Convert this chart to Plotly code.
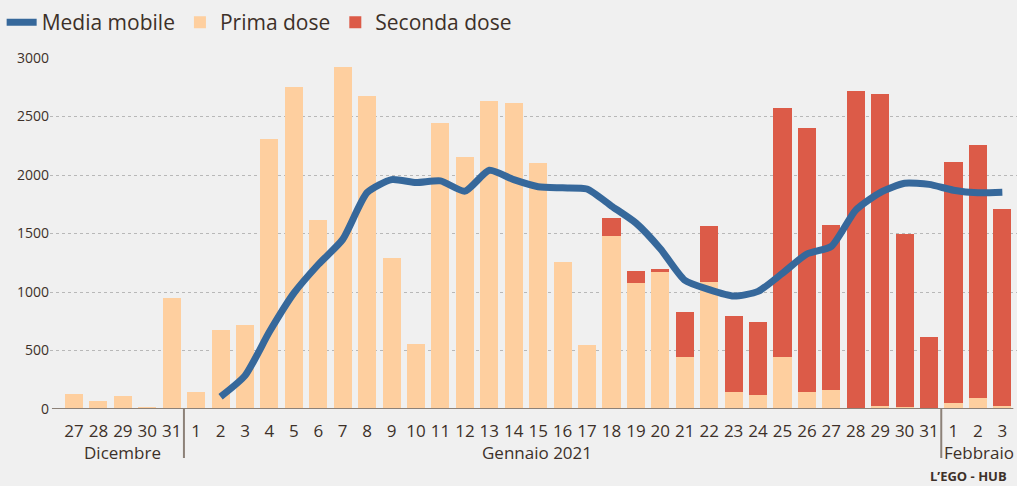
import plotly.graph_objects as go

day_labels = ["27", "28", "29", "30", "31"] + [str(d) for d in range(1, 32)] + ["1", "2", "3"]

prima_dose = [130, 70, 115, 15, 950,
              145, 675, 718, 2308, 2752, 1615, 2923, 2675, 1290, 556,
              2444, 2154, 2632, 2615, 2103, 1256, 547, 1480, 1078, 1172,
              447, 1088, 148, 122, 447, 148, 165, 0, 28, 20, 0,
              54, 97, 28]

seconda_dose = [0, 0, 0, 0, 0,
                0, 0, 0, 0, 0, 0, 0, 0, 0, 0,
                0, 0, 0, 0, 0, 0, 0, 155, 104, 27,
                385, 479, 649, 624, 2128, 2252, 1410, 2720, 2667, 1478, 618,
                2059, 2162, 1683]

media_mobile = [None, None, None, None, None,
                None, 105, 285, 660, 990, 1235, 1450, 1850, 1960, 1935,
                1950, 1862, 2040, 1960, 1900, 1890, 1880, 1735, 1590, 1370,
                1100, 1020, 965, 1005, 1160, 1325, 1390, 1700, 1850, 1930, 1920,
                1870, 1848, 1852]

month_labels = ["Dicembre", "Gennaio 2021", "Febbraio"]

x = list(range(len(day_labels)))

TXT = "#3d3029"
FONT = "Open Sans"

fig = go.Figure()
fig.add_trace(go.Bar(x=x, y=prima_dose, name="Prima dose", marker_color="#fecf9f",
                     marker_line_width=0, legendrank=2))
fig.add_trace(go.Bar(x=x, y=seconda_dose, name="Seconda dose", marker_color="#dc5b48",
                     marker_line_width=0, legendrank=3))
fig.add_trace(go.Scatter(x=x, y=media_mobile, name="Media mobile", mode="lines",
                         line=dict(color="#36689b", width=7, shape="spline", smoothing=0.6),
                         legendrank=1, connectgaps=False))

W, H = 1017, 486
L, R, T, B = 50, 0, 58, 77
px_per = 24.43
x0 = 74
xmin = -(x0 - L) / px_per
xmax = xmin + (W - L - R) / px_per

shapes = []
shapes.append(dict(type="line", xref="x", yref="y", x0=xmin + 0.08, x1=38.45, y0=0, y1=0,
                   line=dict(color="#8c8178", width=2)))
ph = H - T - B
for xv in [4.5, 35.5]:
    shapes.append(dict(type="line", xref="x", yref="paper", x0=xv, x1=xv, y0=0, y1=-49 / ph,
                       line=dict(color="#8c8178", width=2)))

annotations = [
    dict(text=month_labels[0], x=2, y=-43 / ph, xref="x", yref="paper", showarrow=False,
         font=dict(size=17, color=TXT, family=FONT), xanchor="center", yanchor="middle"),
    dict(text=month_labels[1], x=18.95, y=-43 / ph, xref="x", yref="paper", showarrow=False,
         font=dict(size=17, color=TXT, family=FONT), xanchor="center", yanchor="middle"),
    dict(text=month_labels[2], x=35.55, y=-43 / ph, xref="x", yref="paper", showarrow=False,
         font=dict(size=17, color=TXT, family=FONT), xanchor="left", yanchor="middle"),
    dict(text="<b>L’EGO - HUB</b>", x=1, y=-67 / ph, xref="paper", yref="paper", showarrow=False,
         font=dict(size=13, color=TXT, family=FONT), xanchor="right", yanchor="middle",
         xshift=-8),
]

fig.update_layout(
    width=W, height=H,
    margin=dict(l=L, r=R, t=T, b=B),
    paper_bgcolor="#f0f0f0", plot_bgcolor="#f0f0f0",
    barmode="stack", bargap=0.26,
    font=dict(family=FONT, color=TXT),
    showlegend=True,
    legend=dict(orientation="h", traceorder="normal", x=-0.05, xanchor="left",
                y=1 + (T - 2) / ph, yanchor="top",
                font=dict(size=21, color=TXT, family=FONT), bgcolor="rgba(0,0,0,0)",
                itemwidth=30, tracegroupgap=0),
    xaxis=dict(range=[xmin, xmax], tickvals=x, ticktext=day_labels, showgrid=False,
               zeroline=False, showline=False, ticks="outside", ticklen=7,
               tickcolor="rgba(0,0,0,0)",
               tickfont=dict(size=17, color=TXT, family=FONT), fixedrange=True),
    yaxis=dict(range=[0, 3000], tickvals=[0, 500, 1000, 1500, 2000, 2500, 3000],
               showgrid=True, gridcolor="#b8b8b8", griddash="dot", gridwidth=1,
               zeroline=False, showline=False, ticks="",
               tickfont=dict(size=14, color=TXT, family=FONT), fixedrange=True),
    shapes=shapes, annotations=annotations,
)

fig.write_html("out.html", config={"displayModeBar": False},
               post_script="document.body.style.margin='0';document.body.style.overflow='hidden';"
                           "document.body.style.background='#f0f0f0';")
